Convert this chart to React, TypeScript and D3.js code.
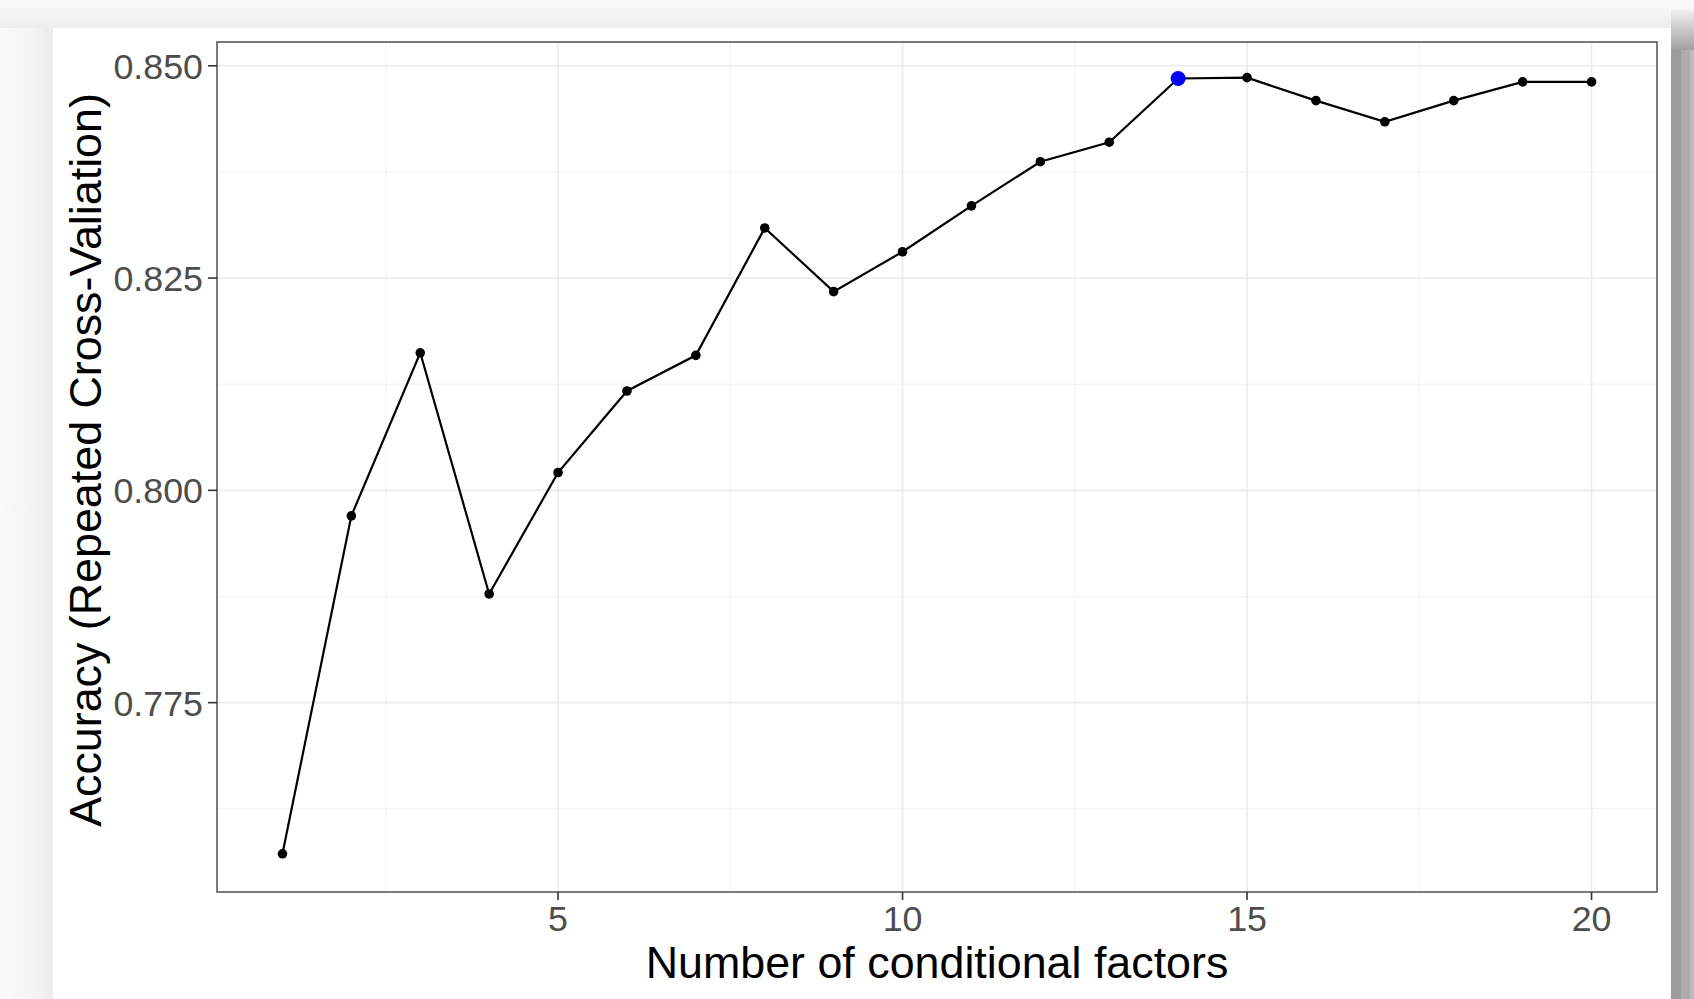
import React from "react";
import * as d3 from "d3";

const factors: number[] = [1, 2, 3, 4, 5, 6, 7, 8, 9, 10, 11, 12, 13, 14, 15, 16, 17, 18, 19, 20];
const accuracy: number[] = [
  0.7572, 0.797, 0.8162, 0.7878, 0.8021, 0.8117, 0.8159, 0.8309, 0.8234, 0.8281,
  0.8335, 0.8387, 0.841, 0.8485, 0.8486, 0.8459, 0.8434, 0.8459, 0.8481, 0.8481,
];
const bestIndex = 13;
const xTicks: number[] = [5, 10, 15, 20];
const xMinor: number[] = [2.5, 7.5, 12.5, 17.5];
const yTicks: number[] = [0.775, 0.8, 0.825, 0.85];
const yMinor: number[] = [0.7625, 0.7875, 0.8125, 0.8375];
const xTitle = "Number of conditional factors";
const yTitle = "Accuracy (Repeated Cross-Valiation)";

const W = 1694;
const H = 999;
const panel = { left: 217, right: 1657, top: 42, bottom: 892 };
const FONT = "'Liberation Sans', Arial, Helvetica, sans-serif";

export default function App() {
  const x = d3.scaleLinear().domain([0.05, 20.95]).range([panel.left, panel.right]);
  const y = d3.scaleLinear().domain([0.7527, 0.8528]).range([panel.bottom, panel.top]);
  const line = d3
    .line<number>()
    .x((_, i) => x(factors[i]))
    .y((d) => y(d));

  return (
    <svg
      width={W}
      height={H}
      style={{ position: "absolute", left: 0, top: 0, display: "block" }}
      fontFamily={FONT}
    >
      <defs>
        <linearGradient id="topShade" x1="0" y1="0" x2="0" y2="1">
          <stop offset="0" stopColor="#fbfbfb" />
          <stop offset="1" stopColor="#ececec" />
        </linearGradient>
        <linearGradient id="leftShade" x1="0" y1="0" x2="1" y2="0">
          <stop offset="0" stopColor="#fafafa" />
          <stop offset="0.6" stopColor="#f4f4f4" />
          <stop offset="1" stopColor="#ebebeb" />
        </linearGradient>
        <linearGradient id="rightShade" x1="0" y1="0" x2="0" y2="1">
          <stop offset="0" stopColor="#f0f0f0" />
          <stop offset="1" stopColor="#a0a0a0" />
        </linearGradient>
      </defs>
      {/* background / card shadow */}
      <rect x={0} y={0} width={W} height={H} fill="#f7f7f7" />
      <rect x={0} y={0} width={W} height={30} fill="url(#topShade)" />
      <rect x={0} y={28} width={53} height={H - 28} fill="url(#leftShade)" />
      <rect x={1671} y={28} width={10} height={H - 28} fill="#9c9c9c" />
      <rect x={1681} y={28} width={9} height={H - 28} fill="#adadad" />
      <rect x={1690} y={28} width={4} height={H - 28} fill="#bdbdbd" />
      <rect x={1671} y={10} width={23} height={40} fill="url(#rightShade)" />
      <rect x={53} y={28} width={1618} height={H - 28} fill="#ffffff" />

      {/* grid */}
      {xMinor.map((v) => (
        <line key={"xm" + v} x1={x(v)} x2={x(v)} y1={panel.top} y2={panel.bottom} stroke="#f2f2f2" strokeWidth={1} />
      ))}
      {yMinor.map((v) => (
        <line key={"ym" + v} x1={panel.left} x2={panel.right} y1={y(v)} y2={y(v)} stroke="#f2f2f2" strokeWidth={1} />
      ))}
      {xTicks.map((v) => (
        <line key={"xg" + v} x1={x(v)} x2={x(v)} y1={panel.top} y2={panel.bottom} stroke="#ebebeb" strokeWidth={1.6} />
      ))}
      {yTicks.map((v) => (
        <line key={"yg" + v} x1={panel.left} x2={panel.right} y1={y(v)} y2={y(v)} stroke="#ebebeb" strokeWidth={1.6} />
      ))}

      {/* data */}
      <path d={line(accuracy) || ""} fill="none" stroke="#000" strokeWidth={2.2} />
      {accuracy.map((v, i) => (
        <circle key={"p" + i} cx={x(factors[i])} cy={y(v)} r={4.8} fill="#000" />
      ))}
      <circle cx={x(factors[bestIndex])} cy={y(accuracy[bestIndex])} r={7.5} fill="#0000ff" />

      {/* panel border */}
      <rect
        x={panel.left}
        y={panel.top}
        width={panel.right - panel.left}
        height={panel.bottom - panel.top}
        fill="none"
        stroke="#5a5a5a"
        strokeWidth={1.6}
      />

      {/* y axis */}
      {yTicks.map((v) => (
        <g key={"yt" + v}>
          <line x1={panel.left - 9} x2={panel.left} y1={y(v)} y2={y(v)} stroke="#333" strokeWidth={1.6} />
          <text
            x={panel.left - 14}
            y={y(v)}
            dy="0.36em"
            textAnchor="end"
            fontSize={35.8}
            fill="#4d4d4d"
          >
            {v.toFixed(3)}
          </text>
        </g>
      ))}

      {/* x axis */}
      {xTicks.map((v) => (
        <g key={"xt" + v}>
          <line x1={x(v)} x2={x(v)} y1={panel.bottom} y2={panel.bottom + 8} stroke="#333" strokeWidth={1.6} />
          <text x={x(v)} y={931} textAnchor="middle" fontSize={35.8} fill="#4d4d4d">
            {v}
          </text>
        </g>
      ))}

      <text x={(panel.left + panel.right) / 2} y={978} textAnchor="middle" fontSize={44.8} fill="#000">
        {xTitle}
      </text>
      <text
        transform={`translate(101, 460) rotate(-90)`}
        textAnchor="middle"
        fontSize={44.8}
        fill="#000"
      >
        {yTitle}
      </text>
    </svg>
  );
}
